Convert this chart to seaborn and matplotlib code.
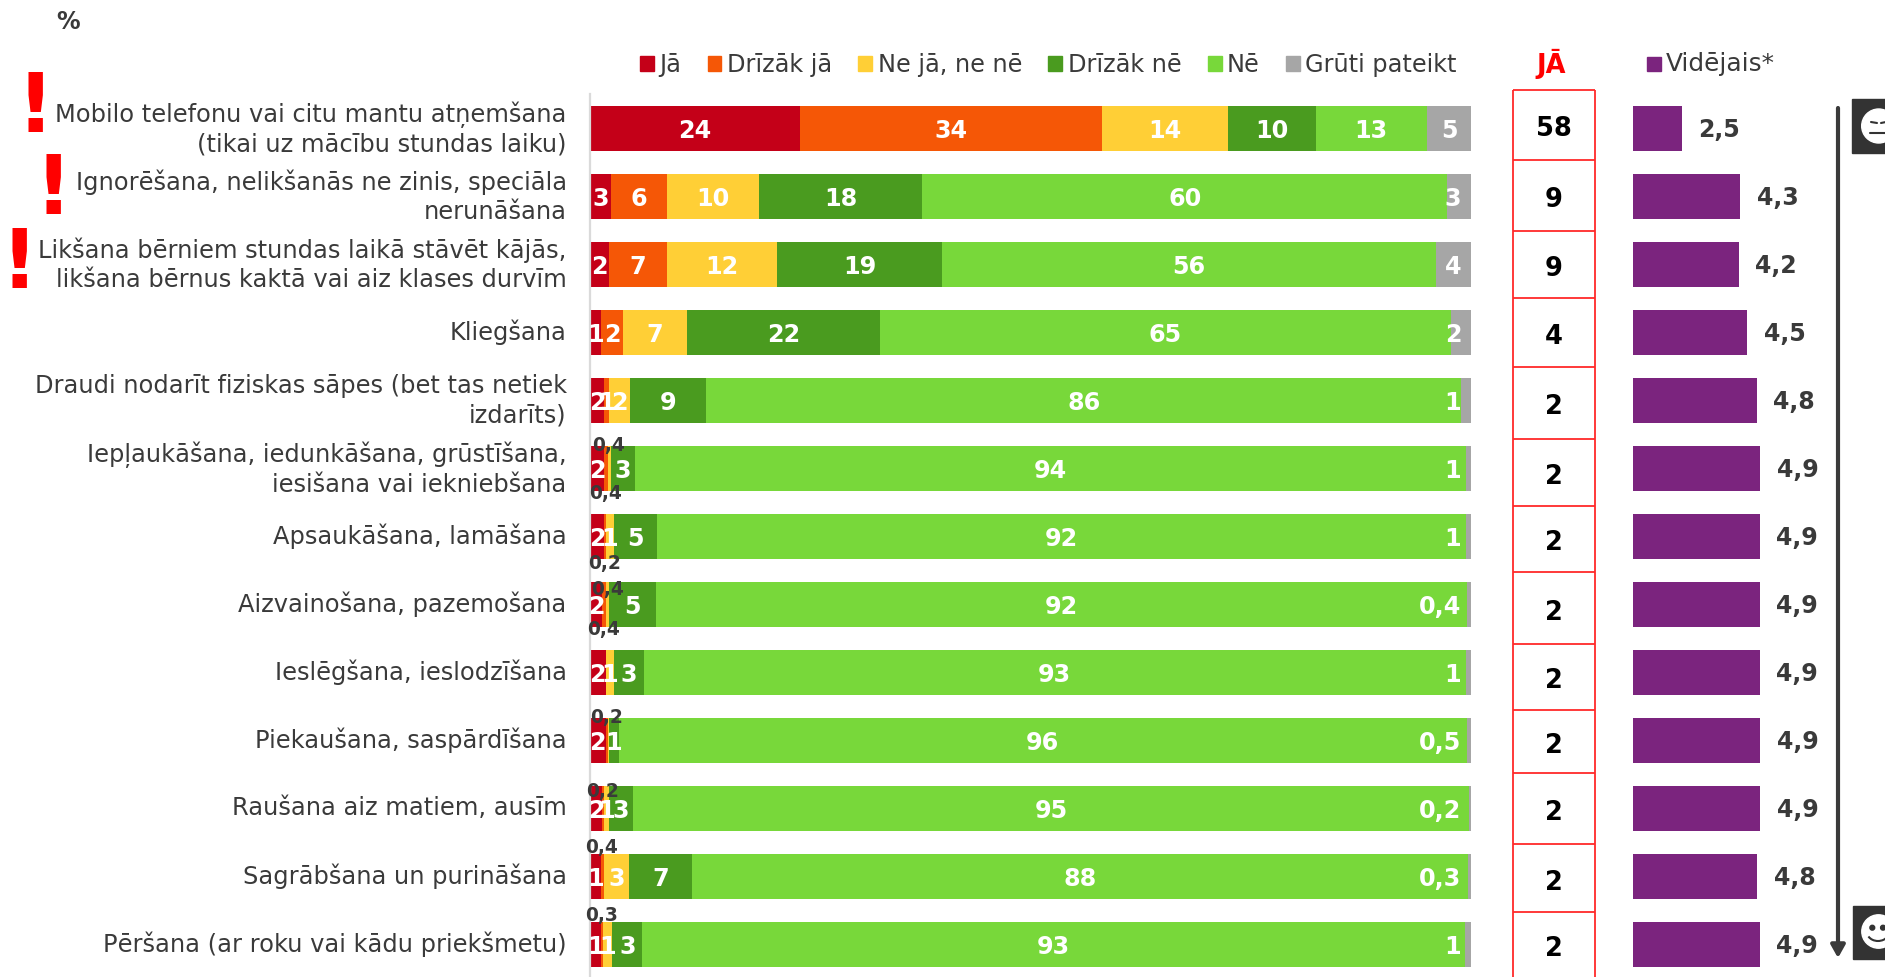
import numpy as np
import matplotlib
matplotlib.use("Agg")
import matplotlib.pyplot as plt
from matplotlib.patches import Rectangle, Circle, Arc
from matplotlib.transforms import ScaledTranslation
import seaborn as sns

rows = [
    "Mobilo telefonu vai citu mantu atņemšana\n(tikai uz mācību stundas laiku)",
    "Ignorēšana, nelikšanās ne zinis, speciāla\nnerunāšana",
    "Likšana bērniem stundas laikā stāvēt kājās,\nlikšana bērnus kaktā vai aiz klases durvīm",
    "Kliegšana",
    "Draudi nodarīt fiziskas sāpes (bet tas netiek\nizdarīts)",
    "Iepļaukāšana, iedunkāšana, grūstīšana,\niesišana vai iekniebšana",
    "Apsaukāšana, lamāšana",
    "Aizvainošana, pazemošana",
    "Ieslēgšana, ieslodzīšana",
    "Piekaušana, saspārdīšana",
    "Raušana aiz matiem, ausīm",
    "Sagrābšana un purināšana",
    "Pēršana (ar roku vai kādu priekšmetu)",
]

categories = ["Jā", "Drīzāk jā", "Ne jā, ne nē", "Drīzāk nē", "Nē", "Grūti pateikt"]
colors = ["#C40018", "#F55706", "#FFCF36", "#4A9B1F", "#78D83A", "#A6A6A6"]

ja = [23.85, 2.35, 2.1, 1.3, 1.6, 1.6, 1.6, 1.4, 1.8, 1.8, 1.4, 1.2, 1.2]
drizak_ja = [34.3, 6.4, 6.65, 2.4, 0.6, 0.4, 0.2, 0.4, 0.0, 0.2, 0.2, 0.4, 0.3]
ne_ja_ne_ne = [14.3, 10.4, 12.45, 7.3, 2.3, 0.4, 0.9, 0.4, 0.9, 0.1, 0.6, 2.8, 1.05]
drizak_ne = [9.9, 18.55, 18.8, 21.9, 8.7, 2.7, 4.9, 5.3, 3.4, 1.2, 2.65, 7.15, 3.4]
ne = [12.65, 59.6, 56.0, 64.8, 85.7, 94.3, 91.8, 92.1, 93.3, 96.2, 94.95, 88.15, 93.35]
grutipateikt = [5.0, 2.7, 4.0, 2.3, 1.1, 0.6, 0.6, 0.4, 0.6, 0.5, 0.2, 0.3, 0.7]
series = [ja, drizak_ja, ne_ja_ne_ne, drizak_ne, ne, grutipateikt]

label_ja = ["24", "3", "2", "1", "2", "2", "2", "2", "2", "2", "2", "1", "1"]
label_drizak_ja = ["34", "6", "7", "2", "1", "0,4", "0,2", "0,4", "", "0,2", "0,2", "0,4", "0,3"]
label_ne_ja_ne_ne = ["14", "10", "12", "7", "2", "0,4", "1", "0,4", "1", "", "1", "3", "1"]
label_drizak_ne = ["10", "18", "19", "22", "9", "3", "5", "5", "3", "1", "3", "7", "3"]
label_ne = ["13", "60", "56", "65", "86", "94", "92", "92", "93", "96", "95", "88", "93"]
label_grutipateikt = ["5", "3", "4", "2", "1", "1", "1", "0,4", "1", "0,5", "0,2", "0,3", "1"]
labels = [label_ja, label_drizak_ja, label_ne_ja_ne_ne, label_drizak_ne, label_ne, label_grutipateikt]

ja_total = ["58", "9", "9", "4", "2", "2", "2", "2", "2", "2", "2", "2", "2"]
mean_values = [2.5, 4.3, 4.26, 4.52, 4.82, 4.93, 4.91, 4.91, 4.91, 4.93, 4.93, 4.83, 4.91]
mean_labels = ["2,5", "4,3", "4,2", "4,5", "4,8", "4,9", "4,9", "4,9", "4,9", "4,9", "4,9", "4,8", "4,9"]

W, H = 1885, 977
dark = "#3A3A3A"

sns.set_style("white")
plt.rcParams["font.family"] = ["DejaVu Sans"]
fig = plt.figure(figsize=(W / 100, H / 100), dpi=100)


def px_axes(x0, x1, y0, y1):
    return fig.add_axes([x0 / W, 1 - y1 / H, (x1 - x0) / W, (y1 - y0) / H])


# rows are 68 px apart, first centre at y=128.4
ylim = ((977 - 128.4) / 68, (94 - 128.4) / 68)
bar_w = 44.7 / 68

ax = px_axes(590, 1471, 94, 977)
left = np.zeros(len(rows))
lefts = []
for vals, c in zip(series, colors):
    sns.barplot(y=rows, x=vals, left=left, color=c, saturation=1, width=bar_w,
                orient="h", errorbar=None, linewidth=0, ax=ax)
    lefts.append(left.copy())
    left = left + np.array(vals)

ax.set_xlim(0, 100)
ax.set_ylim(*ylim)
ax.set_xticks([])
ax.set_xlabel("")
ax.set_ylabel("")
ax.tick_params(axis="y", length=0, pad=16.8)
for t in ax.get_yticklabels():
    t.set_fontsize(17.4)
    t.set_color(dark)
    t.set_multialignment("right")
    t.set_linespacing(1.27)
    shift = 4.5 if "\n" in t.get_text() else 2.5
    t.set_transform(t.get_transform() + ScaledTranslation(0, shift / 100, fig.dpi_scale_trans))
sns.despine(ax=ax, top=True, right=True, bottom=True)
ax.spines["left"].set_color("#DADADA")
ax.spines["left"].set_linewidth(1.6)

# small values sit outside the bar, x/y in px
outside = {
    (5, 1): (609, 446), (5, 2): (606, 494), (6, 1): (605, 564),
    (7, 1): (608, 590), (7, 2): (604, 630), (9, 1): (607, 718),
    (10, 1): (603, 791), (11, 1): (602, 848), (12, 1): (602, 916),
}

over = fig.add_axes([0, 0, 1, 1], facecolor="none")
over.set_xlim(0, W)
over.set_ylim(H, 0)
over.axis("off")

for j, (vals, labs) in enumerate(zip(series, labels)):
    for i, lab in enumerate(labs):
        if lab == "":
            continue
        if (i, j) in outside:
            px, py = outside[(i, j)]
            over.text(px, py, lab, ha="center", va="center", fontsize=13.4,
                      fontweight="bold", color=dark)
        elif j == 5 and i > 0:
            ax.text(98.9, i, lab, ha="right", va="center_baseline", fontsize=17.2,
                    fontweight="bold", color="white", zorder=5)
        else:
            ax.text(lefts[j][i] + vals[i] / 2, i, lab, ha="center", va="center_baseline",
                    fontsize=17.2, fontweight="bold", color="white", zorder=5)

# mean bars start at 1 on a 1..5 scale
ax2 = px_axes(1633, 1633 + 32.4 * 4, 94, 977)
sns.barplot(y=rows, x=mean_values, color="#7B247E", saturation=1, width=bar_w,
            orient="h", errorbar=None, linewidth=0, ax=ax2)
for b in ax2.containers[0]:
    b.set_x(1)
    b.set_width(b.get_width() - 1)
ax2.set_xlim(1, 5)
ax2.set_ylim(*ylim)
ax2.set_xticks([])
ax2.set_yticks([])
ax2.set_ylabel("")
sns.despine(ax=ax2, left=True, bottom=True)
for t in ax2.bar_label(ax2.containers[0], labels=mean_labels, padding=12, fontsize=17,
                       fontweight="bold", color=dark):
    t.xyann = (12, -1.5)

# JĀ column, the cells are not evenly spaced in the original
cell_edges = [90, 160, 231, 298, 367, 439, 506, 572, 644, 710, 773, 844, 912]
over.vlines([1513, 1595], 90, H, color="#FF2A2A", lw=1.3)
over.hlines(cell_edges, 1513, 1595, color="#FF2A2A", lw=1.3)
all_edges = cell_edges + [H]
for i, val in enumerate(ja_total):
    yc = (all_edges[i] + all_edges[i + 1]) / 2 + 4.5
    over.text(1554, yc, val, ha="center", va="center", fontsize=18.5, fontweight="bold", color="black")
over.text(1551, 64, "JĀ", ha="center", va="center", fontsize=18.5, fontweight="bold", color="#FF0000")

# legends
handles = [Rectangle((0, 0), 1, 1, color=c) for c in colors]
over.legend(handles, categories, ncol=6, loc="center left", bbox_to_anchor=(640, 65),
            bbox_transform=over.transData, frameon=False, fontsize=17.3, labelcolor=dark,
            handlelength=0.58, handleheight=0.58, handletextpad=0.22, columnspacing=1.1,
            borderpad=0, borderaxespad=0)
over.add_patch(Rectangle((1647, 57), 14, 14, color="#7B247E"))
over.text(1666, 64, "Vidējais*", ha="left", va="center", fontsize=17.8, color=dark)

over.text(68, 22, "%", ha="center", va="center", fontsize=17, fontweight="bold", color=dark)
for x, y in [(35, 110), (53, 191), (19, 266)]:
    over.text(x, y, "!", ha="center", va="center", fontsize=59, fontweight="bold", color="#FF0000")

# arrow and the two faces cut off at the right edge
over.annotate("", xy=(1838, 958), xytext=(1838, 108),
              arrowprops=dict(arrowstyle="-|>,head_width=0.42,head_length=0.75", lw=3, color=dark,
                              shrinkA=0, shrinkB=0))
face = "#333333"
over.add_patch(Rectangle((1852, 99), 40, 54, color=face))
over.add_patch(Circle((1878.7, 126), 17, color="white"))
over.plot([1871, 1877], [122, 123], color=face, lw=1.5)
over.plot([1881, 1886], [123, 122], color=face, lw=1.5)
over.plot([1870, 1887], [133, 133], color=face, lw=1.5)
over.add_patch(Rectangle((1853, 906), 40, 53, color=face))
over.add_patch(Circle((1878.5, 931.5), 16.7, color="white"))
over.add_patch(Circle((1872.3, 927.7), 2.4, color=face))
over.add_patch(Circle((1883, 927.7), 2.4, color=face))
over.add_patch(Arc((1878, 932), 22, 18, theta1=25, theta2=155, color=face, lw=1.5))
over.set_xlim(0, W)
over.set_ylim(H, 0)

fig.savefig("out.png", dpi=100)
